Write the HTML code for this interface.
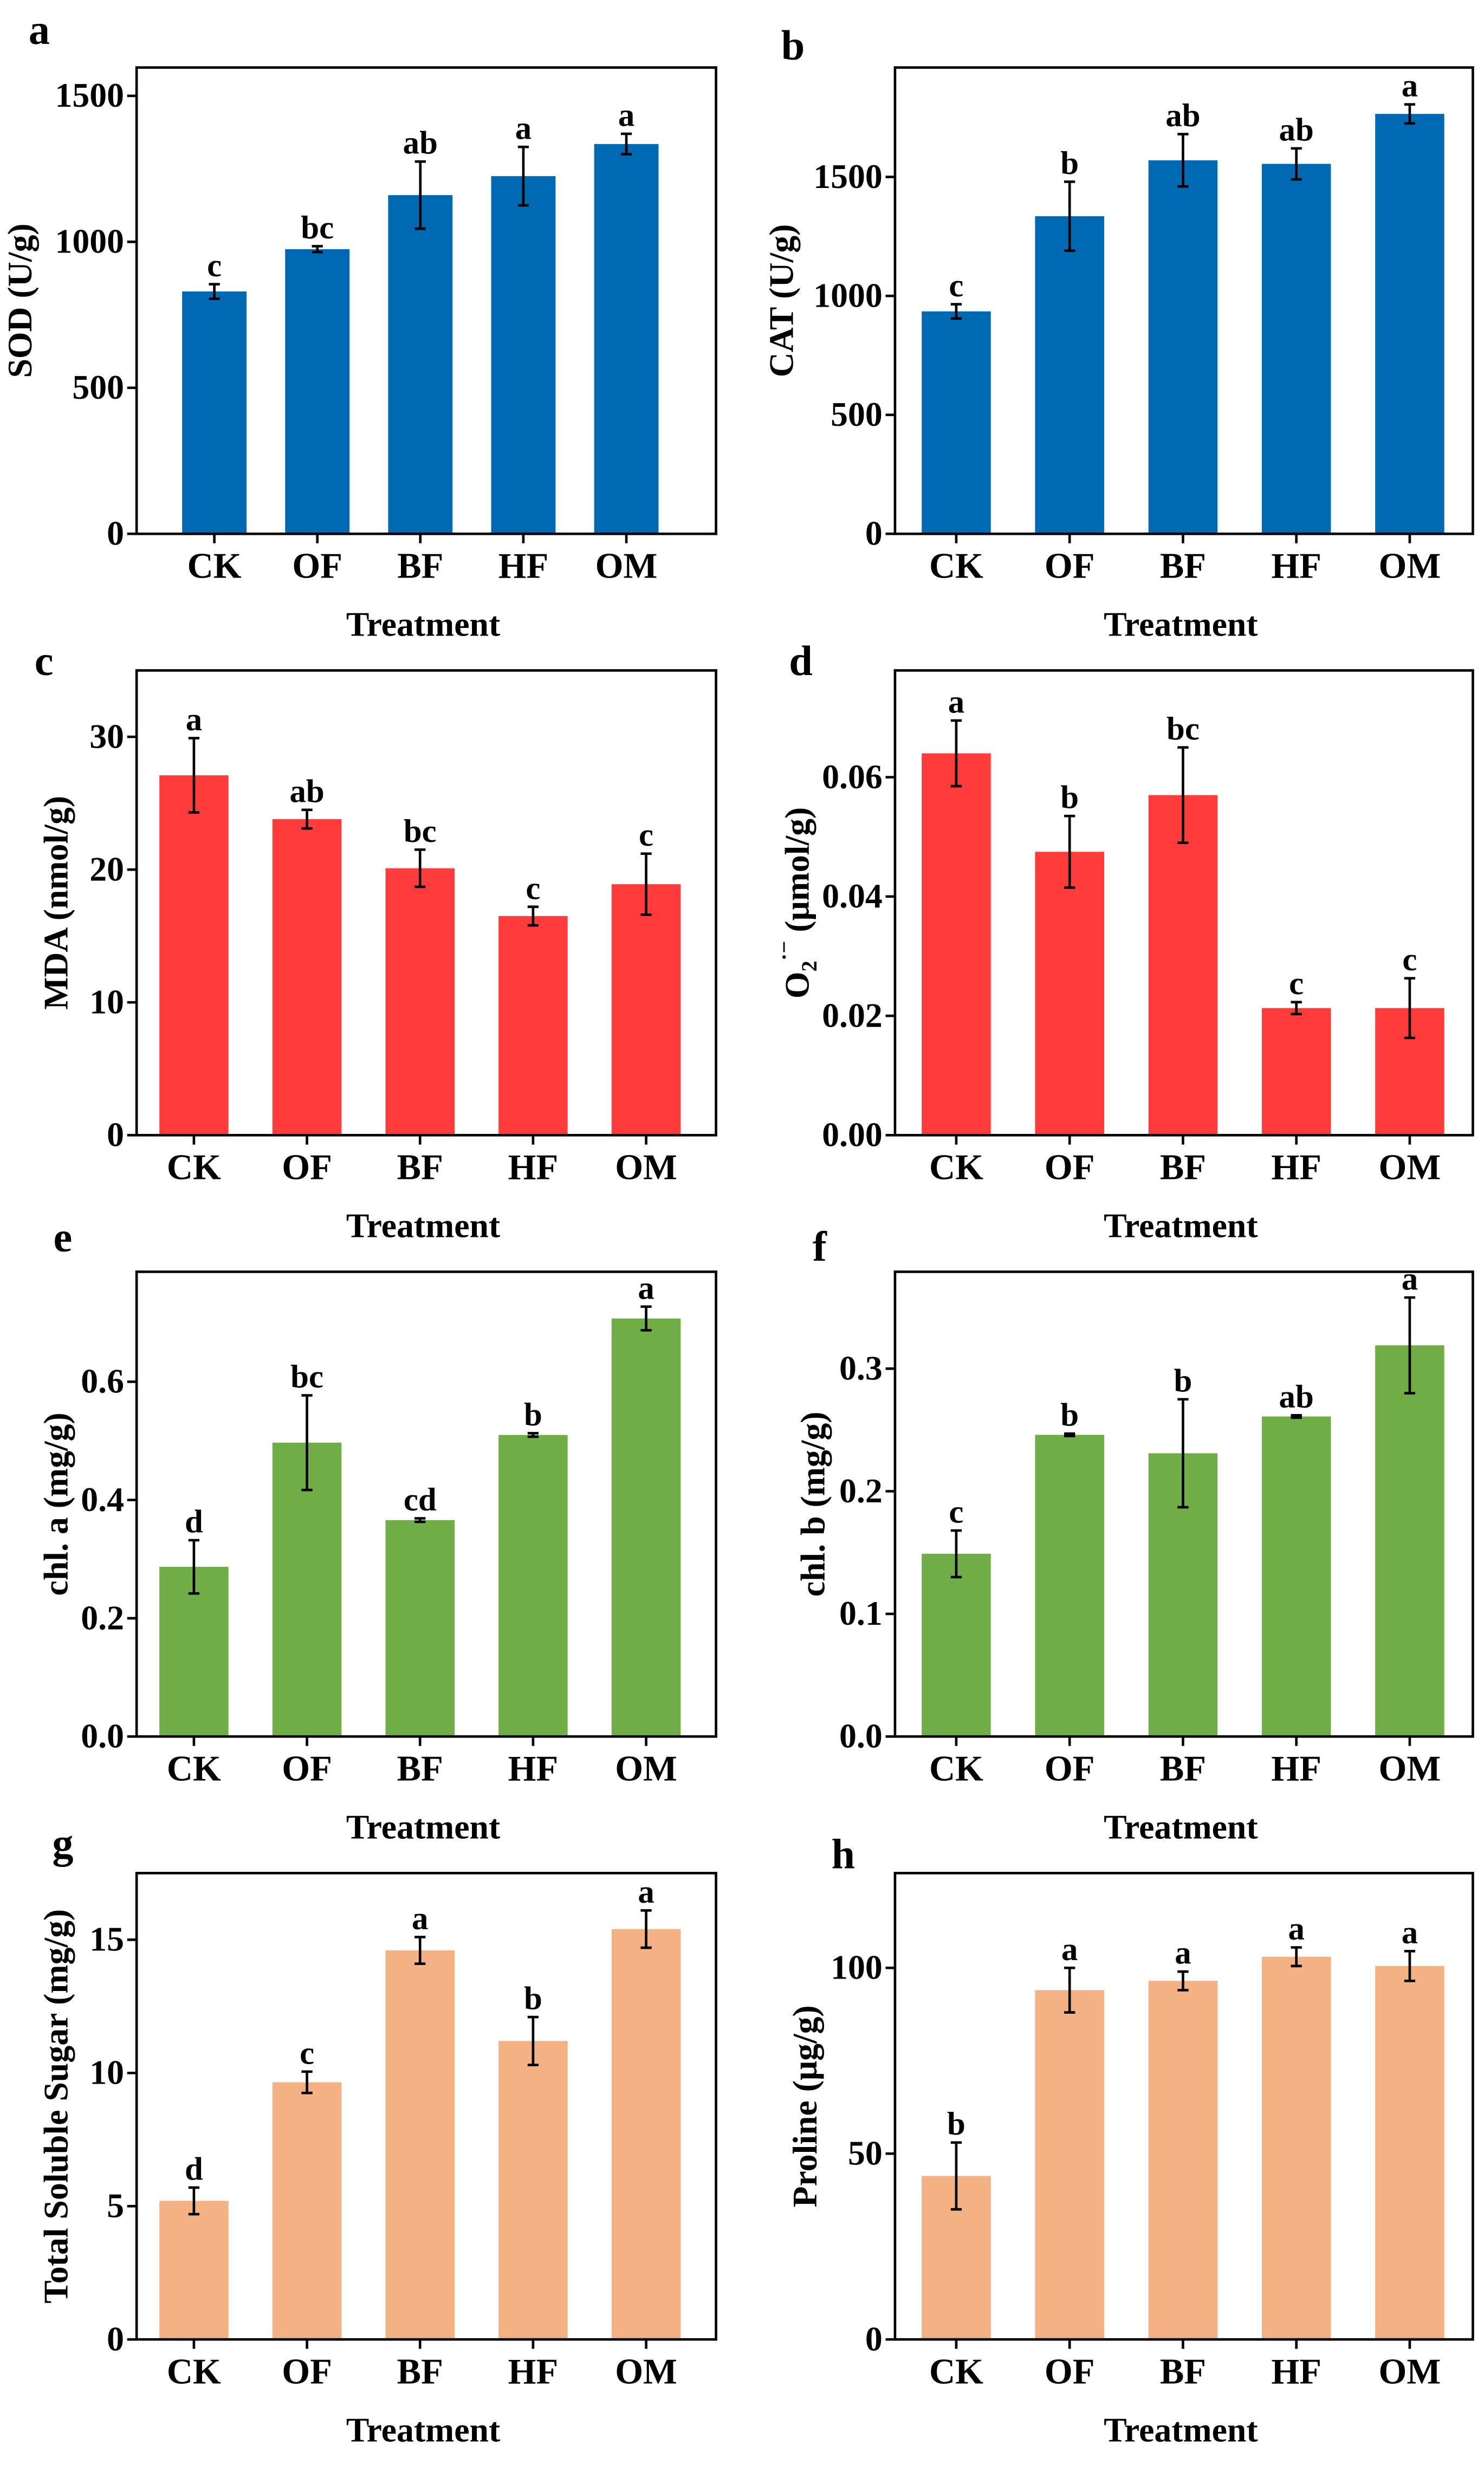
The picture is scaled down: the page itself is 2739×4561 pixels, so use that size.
<!DOCTYPE html>
<html><head><meta charset="utf-8"><style>
html,body{margin:0;padding:0;background:#fff;}
svg{display:block;}
text{font-family:"Liberation Serif",serif;font-weight:bold;fill:#000;}
</style></head><body>
<svg id="fig" width="2739" height="4561" viewBox="0 0 945.1 1573.8" preserveAspectRatio="none" xmlns="http://www.w3.org/2000/svg"></svg>
<script>
const categories = ["CK","OF","BF","HF","OM"];
const sodValues = [830, 975, 1160, 1225, 1335];
const sodErrors = [25, 10, 115, 100, 35];
const sodLetters = ["c","bc","ab","a","a"];
const sodTicks = [0, 500, 1000, 1500];
const catValues = [935, 1335, 1570, 1555, 1765];
const catErrors = [30, 145, 110, 65, 40];
const catLetters = ["c","b","ab","ab","a"];
const catTicks = [0, 500, 1000, 1500];
const mdaValues = [27.1, 23.8, 20.1, 16.5, 18.9];
const mdaErrors = [2.8, 0.7, 1.4, 0.7, 2.3];
const mdaLetters = ["a","ab","bc","c","c"];
const mdaTicks = [0, 10, 20, 30];
const o2Values = [0.064, 0.0475, 0.057, 0.0213, 0.0213];
const o2Errors = [0.0055, 0.006, 0.008, 0.001, 0.005];
const o2Letters = ["a","b","bc","c","c"];
const o2Ticks = [0, 0.02, 0.04, 0.06];
const chlaValues = [0.287, 0.497, 0.366, 0.51, 0.707];
const chlaErrors = [0.045, 0.08, 0.003, 0.003, 0.02];
const chlaLetters = ["d","bc","cd","b","a"];
const chlaTicks = [0, 0.2, 0.4, 0.6];
const chlbValues = [0.149, 0.246, 0.231, 0.261, 0.319];
const chlbErrors = [0.019, 0.001, 0.044, 0.001, 0.039];
const chlbLetters = ["c","b","b","ab","a"];
const chlbTicks = [0, 0.1, 0.2, 0.3];
const sugarValues = [5.2, 9.65, 14.6, 11.2, 15.4];
const sugarErrors = [0.5, 0.4, 0.5, 0.9, 0.7];
const sugarLetters = ["d","c","a","b","a"];
const sugarTicks = [0, 5, 10, 15];
const prolineValues = [44, 94, 96.5, 103, 100.5];
const prolineErrors = [9, 6, 2.5, 2.5, 4];
const prolineLetters = ["b","a","a","a","a"];
const prolineTicks = [0, 50, 100];

const NS = "http://www.w3.org/2000/svg";
const svg = document.getElementById("fig");
function mk(tag, attrs, parent, txt){
  const e = document.createElementNS(NS, tag);
  for (const k in attrs) e.setAttribute(k, attrs[k]);
  if (txt !== undefined) e.textContent = txt;
  (parent||svg).appendChild(e);
  return e;
}
const panels = [
 {id:"a", vals:sodValues, errs:sodErrors, lets:sodLetters, ticks:sodTicks, tickFmt:v=>String(v), max:1597, color:"#0069B4", L:87,R:456,T:43,B:340, x0:136.5, step:65.6, bw:41, title:"SOD (U/g)", tx:20, lx:25, ly:28},
 {id:"b", vals:catValues, errs:catErrors, lets:catLetters, ticks:catTicks, tickFmt:v=>String(v), max:1960, color:"#0069B4", L:570,R:938,T:43,B:340, x0:609, step:72.2, bw:44, title:"CAT (U/g)", tx:505, lx:505, ly:38},
 {id:"c", vals:mdaValues, errs:mdaErrors, lets:mdaLetters, ticks:mdaTicks, tickFmt:v=>String(v), max:35.0, color:"#FF3B3B", L:87,R:456,T:427,B:723, x0:123.5, step:72, bw:44, title:"MDA (nmol/g)", tx:43, lx:28, ly:430},
 {id:"d", vals:o2Values, errs:o2Errors, lets:o2Letters, ticks:o2Ticks, tickFmt:v=>v.toFixed(2), max:0.0779, color:"#FF3B3B", L:570,R:938,T:427,B:723, x0:609, step:72.2, bw:44, title:"o2", tx:515, lx:510, ly:430},
 {id:"e", vals:chlaValues, errs:chlaErrors, lets:chlaLetters, ticks:chlaTicks, tickFmt:v=>v.toFixed(1), max:0.786, color:"#70AD47", L:87,R:456,T:810,B:1106, x0:123.5, step:72, bw:44, title:"chl. a (mg/g)", tx:43, lx:40, ly:797},
 {id:"f", vals:chlbValues, errs:chlbErrors, lets:chlbLetters, ticks:chlbTicks, tickFmt:v=>v.toFixed(1), max:0.379, color:"#70AD47", L:570,R:938,T:810,B:1106, x0:609, step:72.2, bw:44, title:"chl. b (mg/g)", tx:525, lx:522, ly:803},
 {id:"g", vals:sugarValues, errs:sugarErrors, lets:sugarLetters, ticks:sugarTicks, tickFmt:v=>String(v), max:17.5, color:"#F4B183", L:87,R:456,T:1193,B:1490, x0:123.5, step:72, bw:44, title:"Total Soluble Sugar (mg/g)", tx:43, lx:40, ly:1183},
 {id:"h", vals:prolineValues, errs:prolineErrors, lets:prolineLetters, ticks:prolineTicks, tickFmt:v=>String(v), max:125.5, color:"#F4B183", L:570,R:938,T:1193,B:1490, x0:609, step:72.2, bw:44, title:"Proline (μg/g)", tx:520, lx:537, ly:1190}
];
panels.forEach(p=>{
  const g = mk("g",{});
  
  
  const y = v => p.B - v/p.max*(p.B-p.T);
  const cx = i => p.x0 + i*p.step;
  p.vals.forEach((v,i)=>{
    const r = mk("rect",{x:cx(i)-p.bw/2, y:y(v), width:p.bw, height:p.B-y(v), fill:p.color}, g);
    
    
  });
  p.vals.forEach((v,i)=>{
    const e = p.errs[i], x = cx(i);
    const eg = mk("g",{stroke:"#000","stroke-width":1.6}, g);
    
    
    mk("line",{x1:x,x2:x,y1:y(v+e),y2:y(v-e)},eg);
    mk("line",{x1:x-3.5,x2:x+3.5,y1:y(v+e),y2:y(v+e)},eg);
    mk("line",{x1:x-3.5,x2:x+3.5,y1:y(v-e),y2:y(v-e)},eg);
    const t = mk("text",{x:x, y:y(v+e)-5, "text-anchor":"middle","font-size":21}, g, p.lets[i]);
    
    
  });
  const fr = mk("rect",{x:p.L,y:p.T,width:p.R-p.L,height:p.B-p.T,fill:"none",stroke:"#000","stroke-width":1.6}, g);
  
  
  p.ticks.forEach(tv=>{
    mk("line",{x1:p.L-6,x2:p.L,y1:y(tv),y2:y(tv),stroke:"#000","stroke-width":1.6}, g);
    const t = mk("text",{x:p.L-8,y:y(tv)+7,"text-anchor":"end","font-size":22}, g, p.tickFmt(tv));
    
    
  });
  categories.forEach((c,i)=>{
    mk("line",{x1:cx(i),x2:cx(i),y1:p.B,y2:p.B+6,stroke:"#000","stroke-width":1.6}, g);
    const t = mk("text",{x:cx(i),y:p.B+28,"text-anchor":"middle","font-size":23}, g, c);
    
    
  });
  const xt = mk("text",{x:(p.L+p.R)/2 - 2,y:p.B+65,"text-anchor":"middle","font-size":22}, g, "Treatment");
  
  
  const cy = (p.T+p.B)/2;
  const yt = mk("text",{x:p.tx,y:cy,"text-anchor":"middle","font-size":22,transform:`rotate(-90 ${p.tx} ${cy})`}, g);
  
  
  if (p.title === "o2"){
    yt.textContent = "O";
    mk("tspan",{"font-size":14,dy:5},yt,"2");
    mk("tspan",{"font-size":14,dy:-16},yt,"·−");
    mk("tspan",{"font-size":22,dy:11},yt," (μmol/g)");
  } else yt.textContent = p.title;
  const pl = mk("text",{x:p.lx,y:p.ly,"text-anchor":"middle","font-size":27}, g, p.id);
  
  
});
</script>
</body></html>
